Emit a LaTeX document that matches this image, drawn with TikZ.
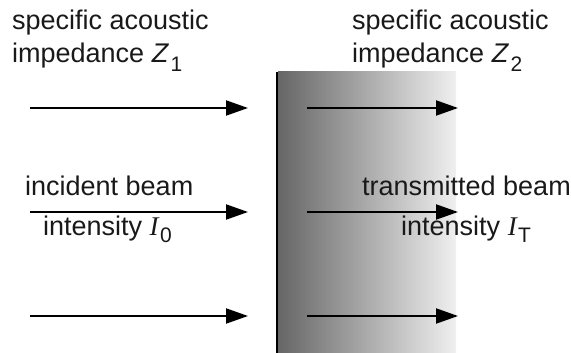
\documentclass[tikz,border=0pt]{standalone}
\usepackage{fontspec}
\setmainfont{Liberation Sans}
\newfontfamily\seriffam{Liberation Serif}
\usetikzlibrary{arrows.meta}
% lowered index, as used in Z_1, I_0 ...
\newcommand{\lowidx}[2][8pt]{\kern1.5pt\raisebox{-#1}{\fontsize{21}{21}\selectfont #2}}
\begin{document}
\begin{tikzpicture}[x=1pt,y=-1pt,
  beam/.style={line width=2pt,-{Triangle[length=22pt,width=15pt]}},
  lbl/.style={anchor=base west,inner sep=0pt,text=black!90,font=\fontsize{27}{32}\selectfont}]
\useasboundingbox (0,0) rectangle (571,353);

% second medium: shaded block with its boundary
\shade[left color=black!60,right color=black!6] (278,72) rectangle (456,353);
\coordinate (bTop) at (277,72);
\coordinate (bBot) at (277,353);
\draw[line width=2pt] (bTop) -- (bBot);

% beam end points
\foreach \n/\y in {1/108,2/212,3/316}{
  \coordinate (inS\n) at (30,\y);
  \coordinate (inE\n) at (248,\y);
  \coordinate (outS\n) at (307,\y);
  \coordinate (outE\n) at (458,\y);
}
\foreach \n in {1,2,3}{
  \draw[beam] (inS\n) -- (inE\n);
  \draw[beam] (outS\n) -- (outE\n);
}

% labels
\node[lbl] (z1a) at (12,30) {specific acoustic};
\node[lbl] (z1b) at (12,63) {impedance \textit{Z}\lowidx[9pt]{1}};
\node[lbl] (z2a) at (352,30) {specific acoustic};
\node[lbl] (z2b) at (352,63) {impedance \textit{Z}\lowidx[9pt]{2}};
\node[lbl] (inc) at (25,195) {incident beam};
\node[lbl] (i0) at (43,235) {intensity {\seriffam\itshape I}\lowidx[7pt]{0}};
\node[lbl] (tr) at (362,195) {transmitted beam};
\node[lbl] (it) at (401,235) {intensity {\seriffam\itshape I}\lowidx[7pt]{T}};
\end{tikzpicture}
\end{document}
